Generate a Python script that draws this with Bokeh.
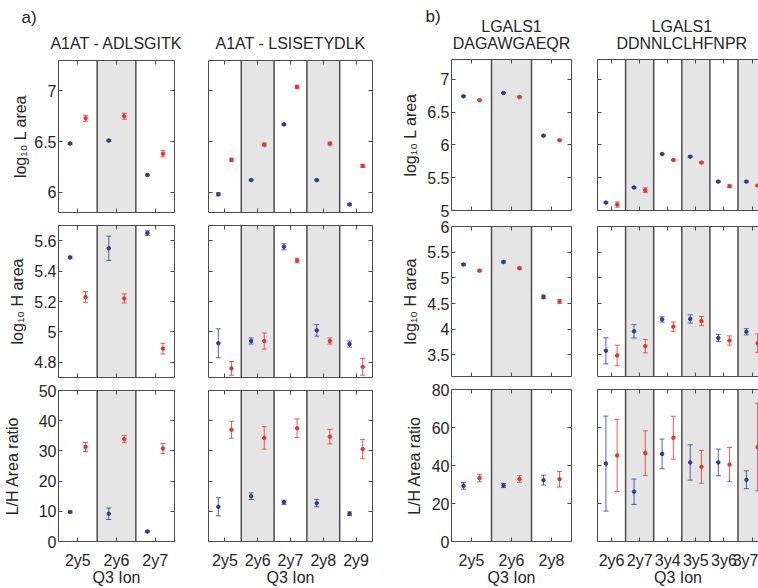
import numpy as np
from bokeh.plotting import figure
from bokeh.layouts import row, column
from bokeh.models import (ColumnDataSource, Whisker, TeeHead, BoxAnnotation, Span,
                          LinearAxis, FixedTicker, Range1d)
from bokeh.core.properties import value
from bokeh.embed import file_html
from bokeh.resources import INLINE

# ---------------- data ----------------
cats_a1 = ["2y5", "2y6", "2y7"]
cats_a2 = ["2y5", "2y6", "2y7", "2y8", "2y9"]
cats_b1 = ["2y5", "2y6", "2y8"]
cats_b2 = ["2y6", "2y7", "3y4", "3y5", "3y6", "3y7"]

titles_top = [None, None, "LGALS1", "LGALS1"]
titles_bottom = ["A1AT - ADLSGITK", "A1AT - LSISETYDLK", "DAGAWGAEQR", "DDNNLCLHFNPR"]
panel_tags = ["a)", None, "b)", None]
row_labels = ["log\u2081\u2080 L area", "log\u2081\u2080 H area", "L/H Area ratio"]
xlabel = "Q3 Ion"

# A1AT - ADLSGITK
a1_L_blue = [6.48, 6.51, 6.17]
a1_L_blue_err = [0.008, 0.008, 0.008]
a1_L_red = [6.73, 6.75, 6.38]
a1_L_red_err = [0.03, 0.03, 0.03]
a1_H_blue = [5.49, 5.55, 5.65]
a1_H_blue_err = [0.008, 0.08, 0.015]
a1_H_red = [5.23, 5.22, 4.89]
a1_H_red_err = [0.035, 0.03, 0.035]
a1_R_blue = [9.8, 9.2, 3.3]
a1_R_blue_err = [0.3, 1.9, 0.3]
a1_R_red = [31.3, 33.9, 30.8]
a1_R_red_err = [1.5, 1.2, 1.7]

# A1AT - LSISETYDLK
a2_L_blue = [5.98, 6.12, 6.67, 6.12, 5.88]
a2_L_blue_err = [0.015, 0.008, 0.008, 0.008, 0.008]
a2_L_red = [6.32, 6.47, 7.04, 6.48, 6.26]
a2_L_red_err = [0.015, 0.015, 0.015, 0.015, 0.015]
a2_H_blue = [4.925, 4.94, 5.56, 5.01, 4.92]
a2_H_blue_err = [0.095, 0.02, 0.02, 0.038, 0.02]
a2_H_red = [4.76, 4.94, 5.47, 4.94, 4.77]
a2_H_red_err = [0.045, 0.053, 0.015, 0.02, 0.055]
a2_R_blue = [11.5, 15.0, 13.0, 12.7, 9.2]
a2_R_blue_err = [3.0, 1.1, 0.7, 1.2, 0.6]
a2_R_red = [37.0, 34.3, 37.5, 34.7, 30.6]
a2_R_red_err = [2.8, 3.7, 3.1, 2.4, 3.2]

# LGALS1 - DAGAWGAEQR
b1_L_blue = [6.74, 6.79, 6.14]
b1_L_blue_err = [0.01, 0.01, 0.01]
b1_L_red = [6.68, 6.73, 6.07]
b1_L_red_err = [0.01, 0.01, 0.01]
b1_H_blue = [5.26, 5.31, 4.63]
b1_H_blue_err = [0.02, 0.02, 0.035]
b1_H_red = [5.14, 5.19, 4.54]
b1_H_red_err = [0.02, 0.02, 0.035]
b1_R_blue = [29.3, 29.5, 32.3]
b1_R_blue_err = [1.8, 1.1, 2.6]
b1_R_red = [33.4, 32.9, 32.8]
b1_R_red_err = [2.0, 1.7, 4.1]

# LGALS1 - DDNNLCLHFNPR
b2_L_blue = [5.12, 5.35, 5.86, 5.82, 5.44, 5.44]
b2_L_blue_err = [0.01, 0.01, 0.01, 0.01, 0.01, 0.01]
b2_L_red = [5.09, 5.31, 5.77, 5.73, 5.37, 5.38]
b2_L_red_err = [0.04, 0.035, 0.01, 0.01, 0.02, 0.01]
b2_H_blue = [3.58, 3.96, 4.19, 4.20, 3.83, 3.95]
b2_H_blue_err = [0.255, 0.13, 0.05, 0.08, 0.07, 0.06]
b2_H_red = [3.49, 3.67, 4.05, 4.16, 3.78, 3.73]
b2_H_red_err = [0.20, 0.13, 0.09, 0.09, 0.09, 0.18]
b2_R_blue = [41.0, 26.2, 46.1, 41.6, 41.6, 32.5]
b2_R_blue_err = [25.0, 6.7, 7.8, 9.3, 7.0, 4.7]
b2_R_red = [45.3, 46.5, 54.6, 39.3, 40.5, 49.7]
b2_R_red_err = [19.0, 11.7, 11.3, 8.6, 9.0, 23.0]

# axis limits / ticks
ylim_a = [(5.8, 7.3), (4.7, 5.7), (0, 50)]
yticks_a = [[6, 6.5, 7], [4.8, 5, 5.2, 5.4, 5.6], [0, 10, 20, 30, 40, 50]]
ylim_b = [(5, 7.3), (3.08, 6), (0, 80)]
yticks_b = [[5, 5.5, 6, 6.5, 7], [3.5, 4, 4.5, 5, 5.5, 6], [0, 20, 40, 60, 80]]

# ---------------- style / layout ----------------
FONT = "Liberation Sans"
TXT = "#262626"
FRAME = "#4d4d4d"
BLUE = "#2a3d97"
RED = "#e3342f"
SHADE = "#e5e5e5"

W, H = 758, 588
HEAD_H = 58
# (left border, frame width, right border) per column
COL_W = [(58, 116, 14), (20, 164, 16), (63, 120, 12), (14, 161, 0)]
# (top border, frame height, bottom border) per row, for the a) and b) columns
ROW_H_A = [(2, 152, 7), (6, 152, 6), (7, 153, 45)]
ROW_H_B = [(1, 151, 9), (7, 150, 7), (6, 153, 46)]
# y-axis title standoff per row, for the two columns that show them
YLAB_STANDOFF = {0: [2, 5, 15], 2: [5, 5, 6]}


def style_axis(ax, show_labels):
    ax.axis_line_color = FRAME
    ax.axis_line_width = 1
    ax.major_tick_line_color = FRAME
    ax.major_tick_in = 4
    ax.major_tick_out = 0
    ax.minor_tick_line_color = None
    ax.major_label_text_font = FONT
    ax.major_label_text_color = TXT if show_labels else None
    ax.major_label_text_font_size = "16px" if show_labels else "0px"
    ax.major_label_standoff = 2 if show_labels else 0
    ax.axis_label_text_font = FONT
    ax.axis_label_text_font_size = "16px"
    ax.axis_label_text_font_style = "normal"
    ax.axis_label_text_color = TXT


def make_panel(ci, ri, row_h, cats, blue, blue_err, red, red_err, ylim, yticks, show_ylab, xend=None):
    lb, fw, rb = COL_W[ci]
    tb, fh, bb = row_h[ri]
    n = len(cats)
    p = figure(width=lb + fw + rb, height=tb + fh + bb,
               x_range=Range1d(0.5, xend if xend else n + 0.5),
               y_range=Range1d(*ylim),
               output_backend="svg", toolbar_location=None,
               min_border_left=lb, min_border_right=rb,
               min_border_top=tb, min_border_bottom=bb)
    p.outline_line_color = None
    p.background_fill_color = "white"
    p.border_fill_color = "white"
    p.xgrid.visible = False
    p.ygrid.visible = False

    xt = list(range(1, n + 1))
    bottom = p.below[0]
    bottom.ticker = FixedTicker(ticks=xt)
    show_x = (ri == 2)
    style_axis(bottom, show_x)
    if show_x:
        bottom.major_label_overrides = {i + 1: c for i, c in enumerate(cats)}
        bottom.major_label_standoff = 10
        bottom.axis_label = xlabel
        bottom.axis_label_standoff = -3

    left = p.left[0]
    left.ticker = FixedTicker(ticks=yticks)
    style_axis(left, show_ylab)
    if show_ylab:
        left.major_label_overrides = {t: f"{t:g}" for t in yticks}
        left.axis_label = row_labels[ri]
        left.axis_label_standoff = YLAB_STANDOFF[ci][ri]

    top = LinearAxis(ticker=FixedTicker(ticks=xt))
    style_axis(top, False)
    p.add_layout(top, "above")
    if xend is None:
        right = LinearAxis(ticker=FixedTicker(ticks=yticks))
        style_axis(right, False)
        p.add_layout(right, "right")

    for i in range(2, n + 1, 2):
        p.add_layout(BoxAnnotation(left=i - 0.5, right=i + 0.5, fill_color=SHADE,
                                   fill_alpha=1, line_color=None, level="underlay"))
    for i in range(1, n):
        p.add_layout(Span(location=i + 0.5, dimension="height", line_color=FRAME,
                          line_width=1.5, level="underlay"))

    x = np.arange(1, n + 1, dtype=float)
    for vals, errs, col, off in ((blue, blue_err, BLUE, -0.2), (red, red_err, RED, 0.2)):
        v = np.array(vals, dtype=float)
        e = np.array(errs, dtype=float)
        src = ColumnDataSource(dict(x=x + off, y=v, lo=v - e, hi=v + e))
        p.add_layout(Whisker(source=src, base="x", lower="lo", upper="hi",
                             line_color=col, line_width=1, line_alpha=0.8, level="glyph",
                             upper_head=TeeHead(size=5, line_color=col, line_width=1, line_alpha=0.8),
                             lower_head=TeeHead(size=5, line_color=col, line_width=1, line_alpha=0.8)))
        p.scatter("x", "y", source=src, size=3.5, color=col, marker="circle")
    return p


groups = [
    (cats_a1, [(a1_L_blue, a1_L_blue_err, a1_L_red, a1_L_red_err),
               (a1_H_blue, a1_H_blue_err, a1_H_red, a1_H_red_err),
               (a1_R_blue, a1_R_blue_err, a1_R_red, a1_R_red_err)], ylim_a, yticks_a, True, None, ROW_H_A),
    (cats_a2, [(a2_L_blue, a2_L_blue_err, a2_L_red, a2_L_red_err),
               (a2_H_blue, a2_H_blue_err, a2_H_red, a2_H_red_err),
               (a2_R_blue, a2_R_blue_err, a2_R_red, a2_R_red_err)], ylim_a, yticks_a, False, None, ROW_H_A),
    (cats_b1, [(b1_L_blue, b1_L_blue_err, b1_L_red, b1_L_red_err),
               (b1_H_blue, b1_H_blue_err, b1_H_red, b1_H_red_err),
               (b1_R_blue, b1_R_blue_err, b1_R_red, b1_R_red_err)], ylim_b, yticks_b, True, None, ROW_H_B),
    (cats_b2, [(b2_L_blue, b2_L_blue_err, b2_L_red, b2_L_red_err),
               (b2_H_blue, b2_H_blue_err, b2_H_red, b2_H_red_err),
               (b2_R_blue, b2_R_blue_err, b2_R_red, b2_R_red_err)], ylim_b, yticks_b, False, 6.23, ROW_H_B),
]

# ---------------- header strip with the panel titles ----------------
head = figure(width=W, height=HEAD_H, x_range=Range1d(0, W), y_range=Range1d(HEAD_H, 0),
              x_axis_location=None, y_axis_location=None, toolbar_location=None,
              output_backend="svg", min_border=0)
head.outline_line_color = None
head.background_fill_color = "white"
head.border_fill_color = "white"
head.xgrid.visible = False
head.ygrid.visible = False
head.grid.grid_line_color = None

x0 = 0
t_x, t_text, t2_x, t2_text, tag_x, tag_text = [], [], [], [], [], []
for ci, g in enumerate(groups):
    cats, xend = g[0], g[5]
    lb, fw, rb = COL_W[ci]
    full_w = fw if xend is None else fw * len(cats) / (xend - 0.5)
    cx = x0 + lb + full_w / 2
    t_x.append(cx)
    t_text.append(titles_bottom[ci])
    if titles_top[ci]:
        t2_x.append(cx)
        t2_text.append(titles_top[ci])
    if panel_tags[ci]:
        tag_x.append(x0 + lb - (37 if ci == 0 else 26))
        tag_text.append(panel_tags[ci])
    x0 += lb + fw + rb

head.text(x=t_x, y=[43] * len(t_x), text=t_text, text_font=value(FONT), text_font_size="16px",
          text_align="center", text_baseline="middle", text_color=TXT)
head.text(x=t2_x, y=[26] * len(t2_x), text=t2_text, text_font=value(FONT), text_font_size="16px",
          text_align="center", text_baseline="middle", text_color=TXT)
head.text(x=tag_x, y=[17, 16], text=tag_text, text_font=value(FONT), text_font_size="17px",
          text_align="left", text_baseline="middle", text_color=TXT)

cols = []
for ci, (cats, rows_data, ylims, yticks, show_ylab, xend, row_h) in enumerate(groups):
    figs = []
    for ri, (bv, be, rv, re_) in enumerate(rows_data):
        figs.append(make_panel(ci, ri, row_h, cats, bv, be, rv, re_, ylims[ri], yticks[ri], show_ylab, xend))
    cols.append(column(*figs, spacing=0))

layout = column(head, row(*cols, spacing=0), spacing=0)
open("out.html", "w").write(file_html(layout, INLINE))
